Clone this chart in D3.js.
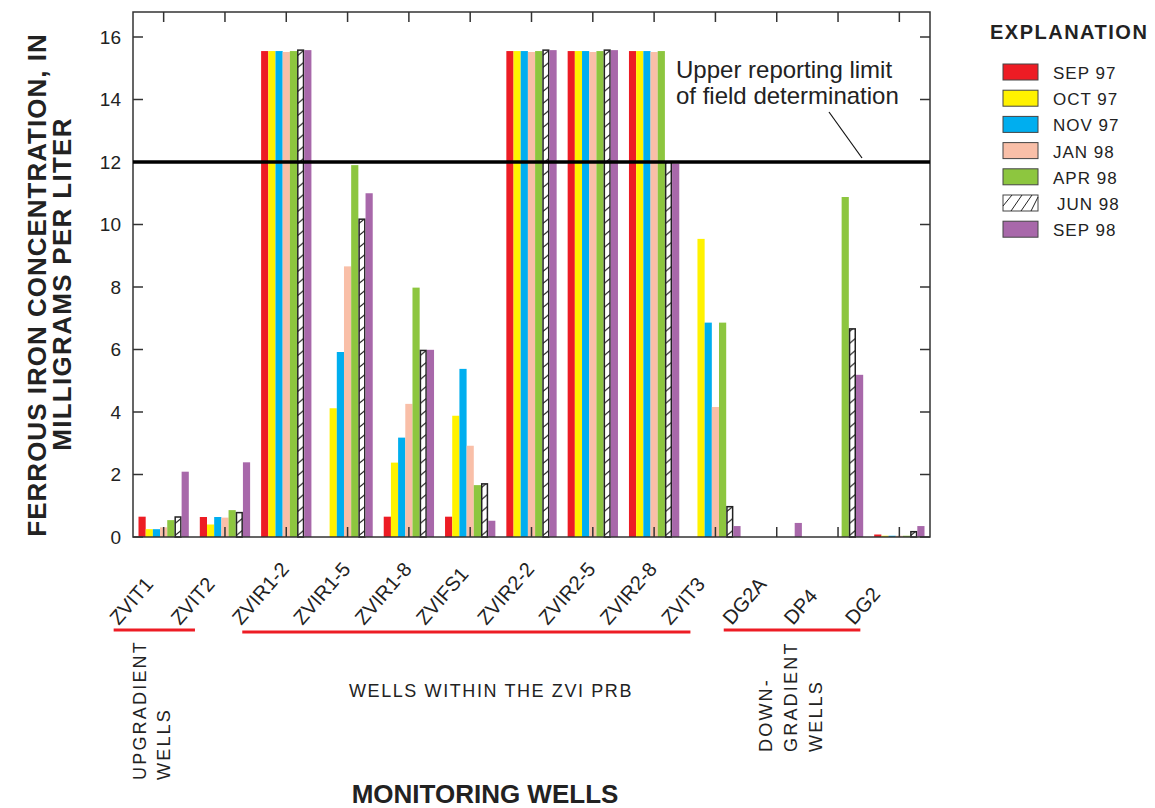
<!DOCTYPE html>
<html>
<head>
<meta charset="utf-8">
<script src="https://cdn.jsdelivr.net/npm/d3@7"></script>
<style>
  body { margin: 0; background: #fff; }
  svg text { font-family: "Liberation Sans", Arial, sans-serif; fill: #222; }
</style>
</head>
<body>
<div id="chart"></div>
<script>
// wells along the x axis
var wells = ["ZVIT1", "ZVIT2", "ZVIR1-2", "ZVIR1-5", "ZVIR1-8", "ZVIFS1", "ZVIR2-2",
             "ZVIR2-5", "ZVIR2-8", "ZVIT3", "DG2A", "DP4", "DG2"];

// sampling dates (legend)
var dates = ["SEP 97", "OCT 97", "NOV 97", "JAN 98", "APR 98", "JUN 98", "SEP 98"];
var colors = ["#ed1c24", "#fff200", "#00aeef", "#f9bfa8", "#8dc63f", "hatch", "#a868aa"];

// ferrous iron, mg/L (null = not sampled)
var sep97 = [0.65, 0.64, 15.55, null, 0.65, 0.65, 15.55, 15.55, 15.55, null, null, null, 0.08];
var oct97 = [0.25, 0.40, 15.55, 4.12, 2.38, 3.88, 15.55, 15.55, 15.55, 9.54, null, null, 0.04];
var nov97 = [0.25, 0.64, 15.55, 5.92, 3.18, 5.38, 15.55, 15.55, 15.55, 6.86, null, null, 0.04];
var jan98 = [0.31, 0.62, 15.52, 8.66, 4.26, 2.92, 15.52, 15.52, 15.52, 4.16, null, null, 0.04];
var apr98 = [0.54, 0.86, 15.55, 11.9, 7.98, 1.66, 15.55, 15.55, 15.55, 6.86, null, 10.88, 0.04];
var jun98 = [0.64, 0.78, 15.58, 10.17, 5.97, 1.70, 15.58, 15.58, 12.0, 0.97, null, 6.66, 0.17];
var sep98 = [2.09, 2.39, 15.58, 11.0, 5.99, 0.52, 15.58, 15.58, 11.95, 0.35, 0.45, 5.19, 0.35];
var seriesValues = [sep97, oct97, nov97, jan98, apr98, jun98, sep98];

var yTicks = [0, 2, 4, 6, 8, 10, 12, 14, 16];
var reportingLimit = 12;

var width = 1155, height = 808;
var pLeft = 133, pRight = 930, pTop = 12, pBottom = 537;

var svg = d3.select("#chart").append("svg")
    .attr("width", width)
    .attr("height", height);

var x = d3.scaleBand().domain(wells).range([pLeft, pRight]).padding(0);
var xInner = d3.scaleBand().domain(dates).range([5.5, x.bandwidth() - 5.5]).padding(0);
var y = d3.scaleLinear().domain([0, 16.8]).range([pBottom, pTop]);

var defs = svg.append("defs");

// bars
var bars = [];
seriesValues.forEach(function(vals, s) {
    vals.forEach(function(v, w) {
        if (v !== null) bars.push({ well: wells[w], date: dates[s], s: s, value: v });
    });
});

bars.forEach(function(d, i) {
    var bx = x(d.well) + xInner(d.date);
    var bw = xInner.bandwidth();
    if (colors[d.s] === "hatch") {
        var id = "hatch" + i;
        var p = defs.append("pattern")
            .attr("id", id)
            .attr("patternUnits", "userSpaceOnUse")
            .attr("x", bx).attr("y", pBottom)
            .attr("width", bw).attr("height", 12);
        p.append("rect").attr("width", bw).attr("height", 12).attr("fill", "#fff");
        p.append("line")
            .attr("x1", 0).attr("y1", 11).attr("x2", bw).attr("y2", 5)
            .attr("stroke", "#222").attr("stroke-width", 1);
        svg.append("rect")
            .attr("x", bx + 0.75)
            .attr("y", y(d.value))
            .attr("width", bw - 1.5)
            .attr("height", y(0) - y(d.value))
            .attr("fill", "url(#" + id + ")")
            .attr("stroke", "#222")
            .attr("stroke-width", 1.5);
    } else {
        svg.append("rect")
            .attr("x", bx)
            .attr("y", y(d.value))
            .attr("width", bw)
            .attr("height", y(0) - y(d.value))
            .attr("fill", colors[d.s]);
    }
});

// frame
svg.append("rect")
    .attr("x", pLeft).attr("y", pTop)
    .attr("width", pRight - pLeft).attr("height", pBottom - pTop)
    .attr("fill", "none").attr("stroke", "#333").attr("stroke-width", 1.5);

// y ticks, left and right, pointing inward
yTicks.forEach(function(t) {
    svg.append("line").attr("x1", pLeft).attr("x2", pLeft + 10)
        .attr("y1", y(t)).attr("y2", y(t)).attr("stroke", "#333").attr("stroke-width", 1.5);
    svg.append("line").attr("x1", pRight).attr("x2", pRight - 10)
        .attr("y1", y(t)).attr("y2", y(t)).attr("stroke", "#333").attr("stroke-width", 1.5);
    svg.append("text")
        .attr("x", pLeft - 12).attr("y", y(t) + 6.5)
        .attr("text-anchor", "end")
        .style("font-size", "19px")
        .text(t);
});

// x ticks, top and bottom, pointing inward
wells.forEach(function(w) {
    var cx = x(w) + x.bandwidth() / 2;
    svg.append("line").attr("x1", cx).attr("x2", cx)
        .attr("y1", pTop).attr("y2", pTop + 10).attr("stroke", "#333").attr("stroke-width", 1.5);
    svg.append("line").attr("x1", cx).attr("x2", cx)
        .attr("y1", pBottom).attr("y2", pBottom - 10).attr("stroke", "#333").attr("stroke-width", 1.5);
    svg.append("text")
        .attr("transform", "translate(" + (cx - 45) + ",626) rotate(-49)")
        .style("font-size", "20px")
        .text(w);
});

// reporting limit line
svg.append("line")
    .attr("x1", pLeft).attr("x2", pRight)
    .attr("y1", y(reportingLimit)).attr("y2", y(reportingLimit))
    .attr("stroke", "#000").attr("stroke-width", 3.5);

svg.append("text").attr("x", 676).attr("y", 78).style("font-size", "24px").text("Upper reporting limit");
svg.append("text").attr("x", 676).attr("y", 104).style("font-size", "24px").text("of field determination");
svg.append("line")
    .attr("x1", 829).attr("y1", 112).attr("x2", 862).attr("y2", y(reportingLimit) - 4)
    .attr("stroke", "#111").attr("stroke-width", 1.2);

// y axis title
svg.append("text")
    .attr("transform", "translate(46,285) rotate(-90)")
    .attr("text-anchor", "middle")
    .style("font-size", "26px").style("font-weight", "bold").style("letter-spacing", "1px")
    .text("FERROUS IRON CONCENTRATION, IN");
svg.append("text")
    .attr("transform", "translate(71,284) rotate(-90)")
    .attr("text-anchor", "middle")
    .style("font-size", "26px").style("font-weight", "bold").style("letter-spacing", "1.3px")
    .text("MILLIGRAMS PER LITER");

// x axis title
svg.append("text")
    .attr("x", 485).attr("y", 803)
    .attr("text-anchor", "middle")
    .style("font-size", "26px").style("font-weight", "bold")
    .text("MONITORING WELLS");

// well group brackets
function cx(w) { return x(w) + x.bandwidth() / 2; }
var groups = [
    { x1: cx("ZVIT1") - 50, x2: cx("ZVIT2") - 30, y: 630 },
    { x1: cx("ZVIR1-2") - 44, x2: cx("ZVIT3") - 25, y: 632 },
    { x1: cx("DG2A") - 53, x2: cx("DG2") - 39, y: 630 }
];
groups.forEach(function(g) {
    svg.append("line")
        .attr("x1", g.x1).attr("x2", g.x2).attr("y1", g.y).attr("y2", g.y)
        .attr("stroke", "#ed1c24").attr("stroke-width", 3);
});

function vlabel(txt, bx, by) {
    svg.append("text")
        .attr("transform", "translate(" + bx + "," + by + ") rotate(-90)")
        .style("font-size", "18px").style("letter-spacing", "2.2px")
        .text(txt);
}
vlabel("UPGRADIENT", 146, 780);
vlabel("WELLS", 170, 780);
vlabel("DOWN-", 772, 752);
vlabel("GRADIENT", 797, 752);
vlabel("WELLS", 822, 752);

svg.append("text")
    .attr("x", 491).attr("y", 697)
    .attr("text-anchor", "middle")
    .style("font-size", "18px").style("letter-spacing", "1.6px")
    .text("WELLS WITHIN THE ZVI PRB");

// legend
svg.append("text")
    .attr("x", 990).attr("y", 39)
    .style("font-size", "20px").style("font-weight", "bold").style("letter-spacing", "1.5px")
    .text("EXPLANATION");

var legend = svg.selectAll(".leg")
    .data(dates)
    .enter().append("g")
    .attr("class", "leg")
    .attr("transform", function(d, i) { return "translate(1003," + (64 + i * 26.2) + ")"; });

legend.append("rect")
    .attr("width", 35).attr("height", 16)
    .attr("fill", function(d, i) { return colors[i] === "hatch" ? "#fff" : colors[i]; })
    .attr("stroke", "#444").attr("stroke-width", 1);

legend.filter(function(d, i) { return colors[i] === "hatch"; })
    .selectAll("line")
    .data([0, 1, 2, 3])
    .enter().append("line")
    .attr("x1", function(k) { return Math.max(0, k * 10 - 2); })
    .attr("y1", function(k) { return k === 0 ? 11 : 16; })
    .attr("x2", function(k) { return Math.min(35, k * 10 + 9); })
    .attr("y2", function(k) { return k === 3 ? 2 : 0; })
    .attr("stroke", "#222").attr("stroke-width", 1);

legend.append("text")
    .attr("x", function(d, i) { return colors[i] === "hatch" ? 54 : 50; })
    .attr("y", 15)
    .style("font-size", "17px").style("letter-spacing", "1px")
    .text(function(d) { return d; });
</script>
</body>
</html>
